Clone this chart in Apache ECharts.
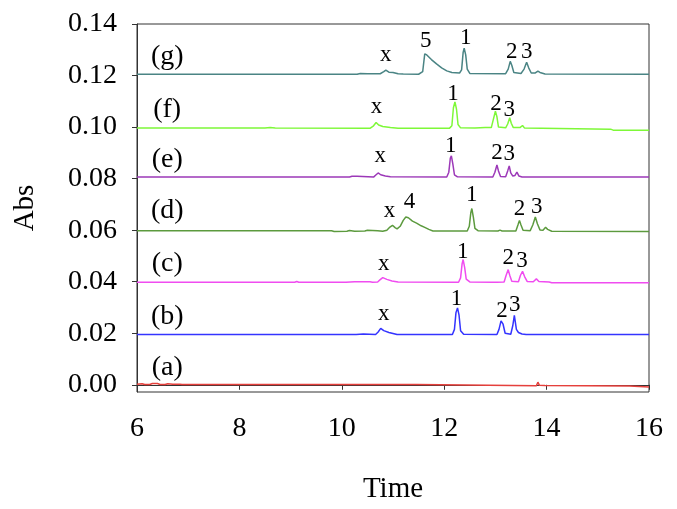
<!DOCTYPE html>
<html>
<head>
<meta charset="utf-8">
<script src="https://cdn.jsdelivr.net/npm/echarts@6/dist/echarts.min.js"></script>
<style>
html,body{margin:0;padding:0;background:#fff;}
#c{width:677px;height:509px;}
</style>
</head>
<body>
<div id="c"></div>
<script>
// ---- data (time, Abs) ----
var traceA = [[6.0,0.0002],[6.1,0.0004],[6.15,0.0001],[6.25,0.0001],[6.3,0.0005],[6.4,0.0005],[6.45,0.0001],[6.55,0.0001],[6.6,0.0004],[6.7,0.0002],[6.84,0.0002],[6.86,0.0005],[6.88,0.0001],[11.45,0.0001],[11.47,-0.0004],[13.8,-0.0004],[13.83,0.0010],[13.86,-0.0002],[13.97,-0.0003],[13.99,-0.0005],[15.62,-0.0005],[15.65,-0.0009],[16.0,-0.0009]];
var traceB = [[6.0,0.0195],[9.14,0.0195],[9.16,0.0198],[9.18,0.0195],[10.28,0.0195],[10.3,0.0197],[10.42,0.0197],[10.45,0.0195],[10.66,0.0195],[10.71,0.0205],[10.76,0.0219],[10.82,0.0210],[10.92,0.0203],[11.0,0.0199],[11.08,0.0195],[12.16,0.0195],[12.2,0.0215],[12.23,0.0280],[12.26,0.0298],[12.29,0.0270],[12.32,0.0210],[12.38,0.0196],[13.03,0.0195],[13.07,0.0215],[13.11,0.0248],[13.15,0.0235],[13.19,0.0200],[13.3,0.0196],[13.34,0.0230],[13.37,0.0269],[13.41,0.0215],[13.45,0.0203],[13.48,0.0206],[13.52,0.0197],[13.6,0.0195],[16.0,0.0195]];
var traceC = [[6.0,0.0398],[6.03,0.0401],[6.06,0.0398],[9.08,0.0398],[9.12,0.0401],[9.16,0.0398],[10.04,0.0398],[10.06,0.0403],[10.08,0.0398],[10.25,0.0400],[10.55,0.0400],[10.6,0.0398],[10.7,0.0399],[10.75,0.0408],[10.8,0.0416],[10.88,0.0409],[10.98,0.0403],[11.1,0.0399],[12.28,0.0398],[12.32,0.0415],[12.35,0.0470],[12.37,0.0486],[12.4,0.0455],[12.43,0.0410],[12.5,0.0399],[12.97,0.0398],[13.0,0.0401],[13.03,0.0398],[13.17,0.0399],[13.21,0.0425],[13.25,0.0447],[13.28,0.0425],[13.32,0.0402],[13.45,0.0400],[13.49,0.0425],[13.53,0.0440],[13.57,0.0420],[13.62,0.0401],[13.74,0.0400],[13.8,0.0411],[13.85,0.0401],[14.05,0.0399],[14.1,0.0396],[16.0,0.0396]];
var traceD = [[6.0,0.0598],[9.8,0.0598],[9.85,0.0595],[10.1,0.0596],[10.15,0.0599],[10.25,0.0596],[10.45,0.0597],[10.5,0.0600],[10.7,0.0598],[10.8,0.0596],[10.88,0.0600],[10.94,0.0612],[10.99,0.0619],[11.04,0.0610],[11.08,0.0605],[11.14,0.0615],[11.2,0.0638],[11.25,0.0651],[11.3,0.0648],[11.38,0.0635],[11.46,0.0627],[11.55,0.0617],[11.62,0.0611],[11.7,0.0603],[11.78,0.0597],[12.45,0.0597],[12.49,0.0615],[12.52,0.0668],[12.54,0.0684],[12.57,0.0650],[12.6,0.0607],[12.66,0.0598],[13.05,0.0597],[13.09,0.0600],[13.13,0.0597],[13.4,0.0597],[13.44,0.0620],[13.47,0.0638],[13.5,0.0620],[13.54,0.0600],[13.68,0.0598],[13.73,0.0620],[13.78,0.0651],[13.82,0.0625],[13.87,0.0601],[13.93,0.0600],[13.98,0.0611],[14.02,0.0603],[14.1,0.0596],[16.0,0.0595]];
var traceE = [[6.0,0.0806],[10.15,0.0806],[10.2,0.0809],[10.3,0.0809],[10.33,0.0806],[10.62,0.0806],[10.67,0.0815],[10.71,0.0822],[10.76,0.0815],[10.85,0.0810],[10.95,0.0807],[12.05,0.0806],[12.09,0.0825],[12.12,0.0880],[12.14,0.0888],[12.17,0.0855],[12.2,0.0815],[12.26,0.0807],[12.95,0.0806],[12.99,0.0825],[13.03,0.0853],[13.06,0.0830],[13.1,0.0808],[13.2,0.0807],[13.24,0.0830],[13.27,0.0849],[13.3,0.0822],[13.34,0.0810],[13.38,0.0812],[13.42,0.0825],[13.46,0.0810],[13.52,0.0806],[16.0,0.0806]];
var traceF = [[6.0,0.0996],[8.5,0.0996],[8.6,0.0998],[8.7,0.0996],[10.55,0.0995],[10.62,0.1005],[10.67,0.1018],[10.72,0.1008],[10.8,0.1002],[10.95,0.0998],[11.1,0.0995],[12.1,0.0995],[12.15,0.1005],[12.18,0.1075],[12.21,0.1098],[12.24,0.1070],[12.27,0.1010],[12.32,0.0997],[12.6,0.0996],[12.8,0.0998],[12.92,0.0998],[12.96,0.1030],[13.0,0.1062],[13.03,0.1040],[13.06,0.1000],[13.2,0.0997],[13.24,0.1012],[13.28,0.1036],[13.31,0.1015],[13.35,0.0998],[13.48,0.0998],[13.53,0.1006],[13.57,0.0996],[15.25,0.0992],[15.3,0.0988],[16.0,0.0988]];
var traceG = [[6.0,0.1205],[10.3,0.1205],[10.36,0.1208],[10.5,0.1207],[10.75,0.1207],[10.82,0.1215],[10.86,0.1221],[10.92,0.1213],[11.0,0.1212],[11.1,0.1207],[11.2,0.1206],[11.5,0.1205],[11.58,0.1215],[11.62,0.1284],[11.66,0.1280],[11.75,0.1262],[11.85,0.1245],[11.95,0.1230],[12.05,0.1218],[12.15,0.1212],[12.3,0.1210],[12.34,0.1222],[12.37,0.1290],[12.39,0.1306],[12.42,0.1280],[12.45,0.1225],[12.5,0.1208],[13.2,0.1207],[13.25,0.1225],[13.29,0.1255],[13.32,0.1240],[13.36,0.1212],[13.5,0.1208],[13.56,0.1225],[13.61,0.1252],[13.65,0.1230],[13.7,0.1210],[13.78,0.1210],[13.83,0.1217],[13.87,0.1212],[13.97,0.1206],[16.0,0.1205]];

var traceNames = ['(a)','(b)','(c)','(d)','(e)','(f)','(g)'];
var traceColors = ['#e5403c','#3434ff','#f04cf0','#5c9a3e','#9c38b8','#7ef838','#4a8484'];
var traceLabelX = [6.59,6.59,6.59,6.59,6.59,6.59,6.59];
var traceLabelY = [0.0067,0.0265,0.0470,0.0676,0.0874,0.1068,0.1272];

var peakText = ['x','1','2','3', 'x','1','2','3', 'x','4','1','2','3', 'x','1','2','3', 'x','1','2','3', 'x','5','1','2','3'];
var peakX    = [10.82,12.24,13.13,13.38, 10.82,12.36,13.25,13.52, 10.93,11.32,12.54,13.47,13.81, 10.75,12.13,13.03,13.27, 10.68,12.17,13.01,13.27, 10.86,11.64,12.42,13.32,13.61];
var peakY    = [0.0276,0.0332,0.0286,0.0308, 0.0469,0.0517,0.0493,0.0482, 0.0676,0.0711,0.0737,0.0684,0.0691, 0.0887,0.0928,0.0899,0.0895, 0.1080,0.1130,0.1090,0.1066, 0.1280,0.1335,0.1347,0.1290,0.1290];

var xTicks = [6,8,10,12,14,16];
var yTicks = [0,0.02,0.04,0.06,0.08,0.10,0.12,0.14];

var traces = [traceA,traceB,traceC,traceD,traceE,traceF,traceG];
var FONT = "'Liberation Serif','Times New Roman',serif";

var series = traces.map(function(d,i){
  return {type:'line', data:d, showSymbol:false, symbol:'none', animation:false,
    lineStyle:{color:traceColors[i], width:1.5}, z:2};
});
series.push({
  type:'scatter', symbolSize:0, animation:false, silent:true, z:5,
  itemStyle:{color:'#000', opacity:1},
  data: traceNames.map(function(n,i){return {name:n, value:[traceLabelX[i], traceLabelY[i]]};}),
  label:{show:true, position:'inside', formatter:'{b}', color:'#000', opacity:1, textBorderWidth:0, fontFamily:FONT, fontSize:28}
});
series.push({
  type:'scatter', symbolSize:0, animation:false, silent:true, z:5,
  itemStyle:{color:'#000', opacity:1},
  data: peakText.map(function(n,i){return {name:n, value:[peakX[i], peakY[i]]};}),
  label:{show:true, position:'inside', formatter:'{b}', color:'#000', opacity:1, textBorderWidth:0, fontFamily:FONT, fontSize:23}
});

var chart = echarts.init(document.getElementById('c'), null, {renderer:'canvas'});
chart.setOption({
  backgroundColor:'#fff',
  animation:false,
  grid:{left:137, right:28, top:24, bottom:117, show:true, borderColor:'#333', borderWidth:1, backgroundColor:'transparent'},
  xAxis:{type:'value', min:xTicks[0], max:xTicks[xTicks.length-1], interval:2,
    name:'Time', nameLocation:'middle', nameGap:83,
    nameTextStyle:{fontFamily:FONT, fontSize:29, color:'#000'},
    axisLine:{show:true, lineStyle:{color:'#333', width:1}},
    axisTick:{show:true, inside:false, length:5, lineStyle:{color:'#333'}},
    axisLabel:{margin:23, fontFamily:FONT, fontSize:28, color:'#000'},
    splitLine:{show:false}},
  yAxis:{type:'value', min:-0.0028, max:0.14,
    name:'Abs', nameLocation:'middle', nameGap:97,
    nameTextStyle:{fontFamily:FONT, fontSize:29, color:'#000'},
    axisLine:{show:true, onZero:false, lineStyle:{color:'#333', width:1}},
    axisTick:{show:true, inside:false, length:5, lineStyle:{color:'#333'}, customValues:yTicks},
    axisLabel:{margin:20, fontFamily:FONT, fontSize:28, color:'#000', customValues:yTicks,
      formatter:function(v){return v.toFixed(2);}},
    splitLine:{show:false}},
  series:series
});
</script>
</body>
</html>
